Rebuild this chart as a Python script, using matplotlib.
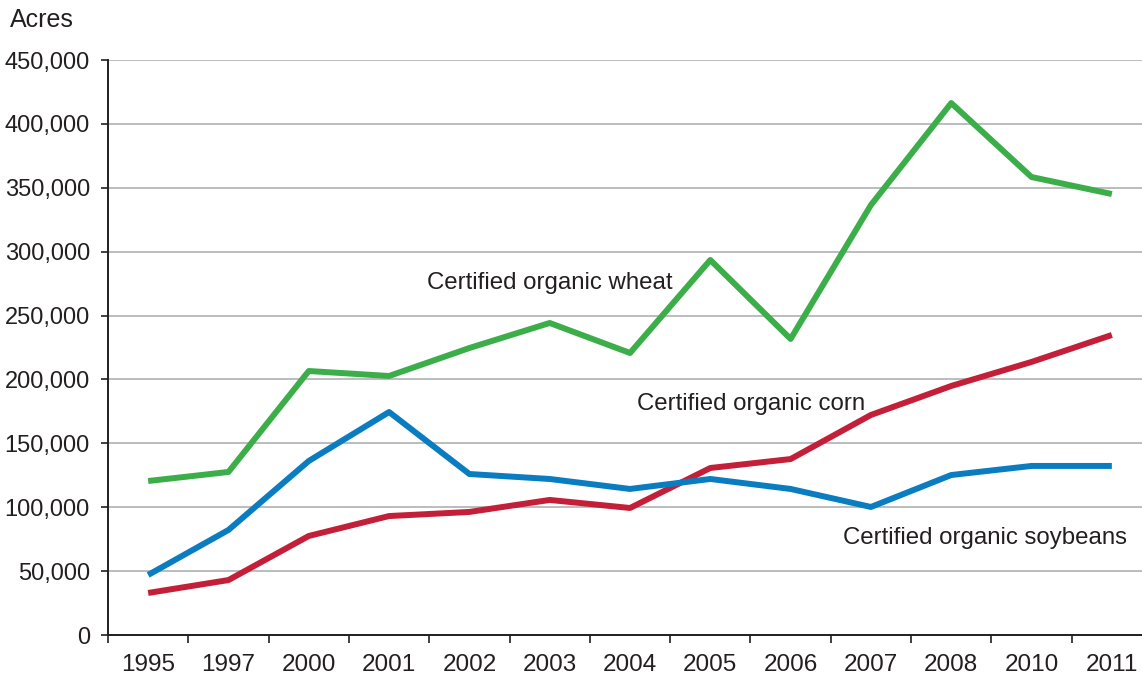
import matplotlib.pyplot as plt
import numpy as np
from matplotlib import ticker

plt.rcParams['font.family'] = ['Liberation Sans', 'DejaVu Sans']

years = ['1995', '1997', '2000', '2001', '2002', '2003', '2004',
         '2005', '2006', '2007', '2008', '2010', '2011']
wheat = [120500, 127600, 206600, 202700, 224600, 244200, 220700,
         293500, 231700, 336500, 416300, 358400, 345100]
corn = [32900, 43000, 77500, 93100, 96300, 105700, 99400,
        130700, 137700, 172200, 194900, 213700, 234800]
soybeans = [47000, 82200, 136200, 174500, 126000, 122100, 114300,
            122100, 114300, 100200, 125200, 132300, 132300]

fig = plt.figure(figsize=(11.42, 6.75), dpi=100)
ax = fig.add_axes([108 / 1142, 40 / 675, 1044 / 1142, 575 / 675])

x = np.arange(len(years))
ax.plot(x, wheat, color='#3cae49', lw=4.3, solid_capstyle='butt', zorder=3)
ax.plot(x, corn, color='#c41f38', lw=4.3, solid_capstyle='butt', zorder=3)
ax.plot(x, soybeans, color='#0a7dc1', lw=4.3, solid_capstyle='butt', zorder=3)

ax.set_xlim(-0.5, len(years) - 0.5)
ax.set_ylim(0, 450000)

# ticks at category boundaries, labels at centres
ax.set_xticks(np.arange(-0.5, len(years), 1))
ax.set_xticklabels([])
ax.set_xticks(x, minor=True)
ax.set_xticklabels(years, minor=True)
ax.tick_params(axis='x', which='major', length=6, width=1.2, color='#231f20')
ax.tick_params(axis='x', which='minor', length=0, pad=14, labelsize=17.5,
               labelcolor='#231f20')

ax.set_yticks(np.arange(0, 450001, 50000))
ax.yaxis.set_major_formatter(ticker.FuncFormatter(lambda v, p: f'{int(v):,}'))
ax.tick_params(axis='y', length=5, width=1.2, color='#231f20', pad=8,
               labelsize=17, labelcolor='#231f20')

ax.grid(axis='y', color='#a7a9ac', lw=1.1)
ax.set_axisbelow(True)
for s in ['top', 'right']:
    ax.spines[s].set_visible(False)
for s in ['left', 'bottom']:
    ax.spines[s].set_color('#231f20')
    ax.spines[s].set_linewidth(1.4)
ax.spines['bottom'].set_zorder(4)

ax.text(3.47, 275500, 'Certified organic wheat', fontsize=17.3,
        color='#231f20', ha='left', va='center')
ax.text(6.09, 180800, 'Certified organic corn', fontsize=17.3,
        color='#231f20', ha='left', va='center')
ax.text(8.655, 75900, 'Certified organic soybeans', fontsize=17.3,
        color='#231f20', ha='left', va='center')

fig.text(10 / 1142, 1 - 20 / 675, 'Acres', fontsize=18, color='#231f20',
         ha='left', va='center')

fig.savefig('out.png', dpi=100)
